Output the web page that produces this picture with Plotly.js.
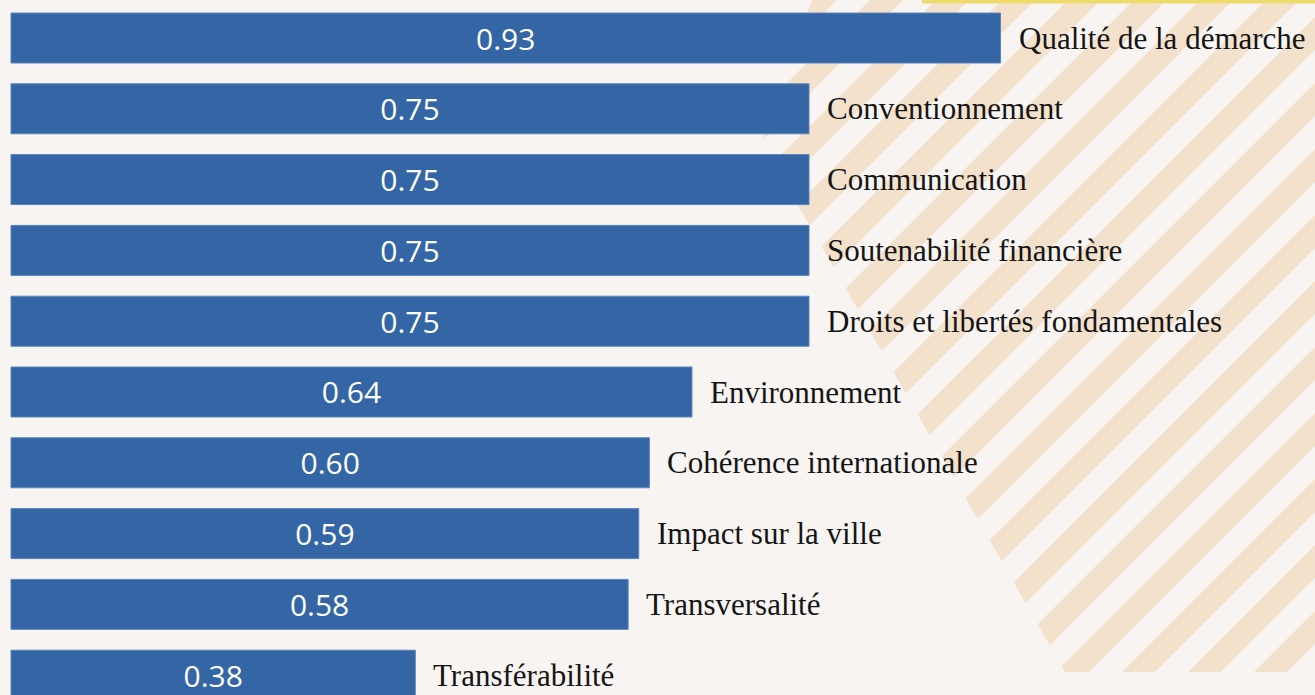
<!DOCTYPE html>
<html>
<head>
<meta charset="utf-8">
<script src="https://cdn.plot.ly/plotly-3.0.1.min.js"></script>
<style>
html,body{margin:0;padding:0;background:#f7f4f1;overflow:hidden;}
#chart{width:1315px;height:695px;}
</style>
</head>
<body>
<div id="chart"></div>
<script>
// ---- data ----
const categories = [
  "Qualité de la démarche",
  "Conventionnement",
  "Communication",
  "Soutenabilité financière",
  "Droits et libertés fondamentales",
  "Environnement",
  "Cohérence internationale",
  "Impact sur la ville",
  "Transversalité",
  "Transférabilité"
];
const scores = [0.93, 0.75, 0.75, 0.75, 0.75, 0.64, 0.60, 0.59, 0.58, 0.38];
const scoreLabels = ["0.93", "0.75", "0.75", "0.75", "0.75", "0.64", "0.60", "0.59", "0.58", "0.38"];

// ---- decoration: diagonal stripes clipped to a polygon (pixel space) ----
const W = 1315, H = 695;
const region = [[812,0],[762,142],[1065,672],[1315,672],[1315,0]];
function clipHalf(poly, a, b, c) { // keep a*x+b*y <= c
  const out = [];
  for (let i = 0; i < poly.length; i++) {
    const p = poly[i], q = poly[(i+1) % poly.length];
    const fp = a*p[0]+b*p[1]-c, fq = a*q[0]+b*q[1]-c;
    if (fp <= 0) out.push(p);
    if ((fp < 0 && fq > 0) || (fp > 0 && fq < 0)) {
      const t = fp/(fp-fq);
      out.push([p[0]+t*(q[0]-p[0]), p[1]+t*(q[1]-p[1])]);
    }
  }
  return out;
}
const shapes = [];
const period = 66, s0 = 12, s1 = 45;
for (let k = 10; k <= 31; k++) {
  const c1 = s0 + period*k, c2 = s1 + period*k;
  let poly = clipHalf(region, 1, 1, c2);
  poly = clipHalf(poly, -1, -1, -c1);
  if (poly.length < 3) continue;
  const d = poly.map((p,i)=> (i?'L':'M') + (p[0]/W).toFixed(5) + ',' + (1-p[1]/H).toFixed(5)).join(' ') + ' Z';
  shapes.push({type:'path', xref:'paper', yref:'paper', path:d, fillcolor:'#f3e1cc', line:{width:0}, layer:'below'});
}
// yellow banner edge at the top right
shapes.push({type:'rect', xref:'paper', yref:'paper', x0:922/W, x1:1, y0:1-3.5/H, y1:1.02,
  fillcolor:'#eedb6e', line:{width:0}, layer:'below'});

const trace = {
  type:'bar',
  orientation:'h',
  x: scores,
  y: categories,
  width: 0.706,
  marker:{color:'#3465a5', line:{color:'#5b83bd', width:1}},
  text: scoreLabels,
  textposition:'inside',
  insidetextanchor:'middle',
  textangle:0,
  textfont:{family:'Open Sans, sans-serif', size:30, color:'#ffffff'},
  hoverinfo:'none'
};

const annotations = categories.map((c,i)=>({
  x: scores[i], y: c, xref:'x', yref:'y',
  text: c, showarrow:false, xanchor:'left', yanchor:'middle', xshift:16,
  font:{family:'Liberation Serif, serif', size:31, color:'#151515'}
}));

const layout = {
  width: W, height: H,
  margin:{l:0, r:0, t:0, b:0, pad:0},
  paper_bgcolor:'#f7f4f1',
  plot_bgcolor:'rgba(0,0,0,0)',
  showlegend:false,
  xaxis:{range:[-11/1064, 1304/1064], visible:false, fixedrange:true},
  yaxis:{type:'category', categoryorder:'array', categoryarray:categories,
         range:[9.28, -0.537], visible:false, fixedrange:true},
  shapes: shapes,
  annotations: annotations
};

Plotly.newPlot('chart', [trace], layout, {displayModeBar:false, staticPlot:true});
</script>
</body>
</html>
